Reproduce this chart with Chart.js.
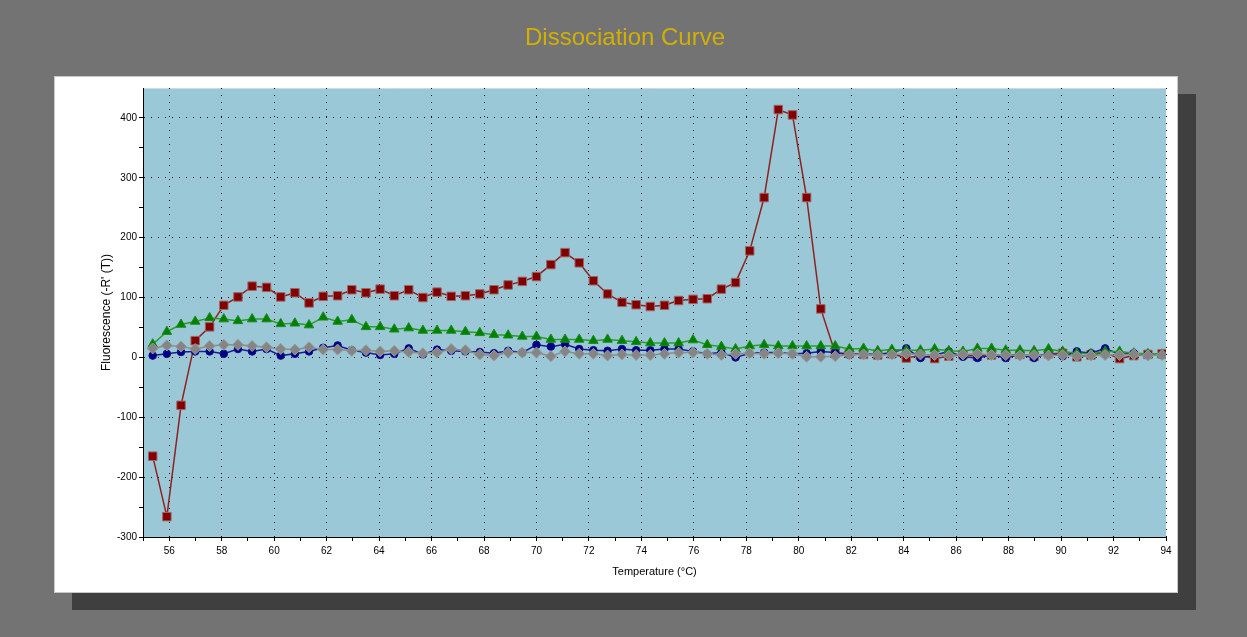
<!DOCTYPE html>
<html>
<head>
<meta charset="utf-8">
<title>Dissociation Curve</title>
<script src="https://cdn.jsdelivr.net/npm/chart.js@4/dist/chart.umd.min.js"></script>
<style>
  html, body { margin: 0; padding: 0; background: #737373; }
  #canvas-container { width: 1247px; height: 637px; }
</style>
</head>
<body>
<div id="canvas-container"><canvas id="chart" width="1247" height="637"></canvas></div>
<script>
// temperature of each reading (deg C)
const temps = [
  55.37, 55.91, 56.45, 56.99, 57.54, 58.08, 58.62, 59.16, 59.71, 60.25,
  60.79, 61.33, 61.87, 62.42, 62.96, 63.50, 64.04, 64.58, 65.13, 65.67,
  66.21, 66.75, 67.29, 67.84, 68.38, 68.92, 69.46, 70.00, 70.55, 71.09,
  71.63, 72.17, 72.71, 73.26, 73.80, 74.34, 74.88, 75.42, 75.97, 76.51,
  77.05, 77.59, 78.13, 78.68, 79.22, 79.76, 80.30, 80.84, 81.39, 81.93,
  82.47, 83.01, 83.55, 84.10, 84.64, 85.18, 85.72, 86.26, 86.81, 87.35,
  87.89, 88.43, 88.97, 89.52, 90.06, 90.60, 91.14, 91.68, 92.23, 92.77,
  93.31, 93.85
];

// -R'(T) for each well
const redWell = [
  -165, -266, -80, 28, 51, 87, 101, 119, 117, 101,
  108, 91, 102, 103, 113, 108, 114, 103, 113, 100,
  109, 102, 103, 106, 113, 121, 127, 135, 155, 175,
  158, 128, 106, 92, 88, 85, 87, 95, 97, 98,
  114, 125, 178, 267, 414, 405, 267, 81, 7, 7,
  5, 4, 6, -1, 3, -2, 2, 5, 2, 4,
  3, 5, 2, 6, 7, 1, 4, 8, -2, 3,
  5, 6
];
const greenWell = [
  22, 43, 55, 60, 66, 64, 61, 64, 64, 56,
  57, 54, 67, 60, 63, 51, 51, 47, 49, 45,
  45, 45, 43, 41, 38, 37, 35, 35, 30, 30,
  30, 28, 30, 28, 26, 24, 24, 24, 29, 21,
  18, 14, 19, 21, 19, 19, 19, 19, 19, 14,
  15, 11, 13, 12, 12, 14, 11, 10, 15, 15,
  12, 12, 11, 14, 10, 7, 6, 10, 10, 7,
  6, 5
];
const blueWell = [
  3, 6, 9, 10, 10, 6, 14, 10, 14, 3,
  6, 10, 16, 20, 12, 8, 4, 6, 15, 5,
  13, 11, 10, 9, 7, 11, 8, 21, 18, 22,
  14, 12, 11, 14, 12, 12, 14, 14, 10, 6,
  8, 0, 7, 8, 8, 6, 7, 10, 8, 4,
  6, 5, 8, 15, -1, 4, 10, 1, -1, 4,
  -1, 5, -1, 7, 2, 10, 7, 15, 5, 7,
  4, 4
];
const grayWell = [
  15, 20, 18, 14, 19, 21, 21, 19, 17, 14,
  13, 17, 13, 13, 11, 12, 10, 11, 9, 7,
  8, 14, 12, 5, 3, 8, 8, 8, 2, 10,
  6, 6, 3, 5, 4, 4, 6, 8, 8, 6,
  4, 6, 7, 6, 7, 6, 1, 1, 2, 5,
  5, 4, 5, 6, 5, 4, 3, 5, 6, 4,
  4, 3, 4, 3, 4, 2, 3, 4, 4, 5,
  3, 4
];

const FONT = 'Arial, "Liberation Sans", sans-serif';

function points(values) {
  return values.map((v, i) => ({ x: temps[i], y: v }));
}

// grey backdrop, drop shadow, white card and the blue plot area
const framePlugin = {
  id: 'frame',
  beforeDraw(chart) {
    const ctx = chart.ctx;
    const a = chart.chartArea;
    ctx.save();
    ctx.fillStyle = '#737373';
    ctx.fillRect(0, 0, chart.width, chart.height);
    ctx.fillStyle = '#3f3f3f';
    ctx.fillRect(72, 94, 1124, 516);
    ctx.fillStyle = '#ffffff';
    ctx.fillRect(54, 76, 1124, 517);
    ctx.strokeStyle = '#c8c8c8';
    ctx.lineWidth = 1;
    ctx.strokeRect(54.5, 76.5, 1123, 516);
    ctx.fillStyle = '#9bc8d7';
    ctx.fillRect(a.left, a.top, a.right - a.left, a.bottom - a.top);
    ctx.strokeStyle = '#c6dde6';
    ctx.beginPath();
    ctx.moveTo(a.left, a.top + 0.5);
    ctx.lineTo(a.right, a.top + 0.5);
    ctx.stroke();
    ctx.restore();
  }
};

function createChart() {
  const ctx = document.getElementById('chart').getContext('2d');
  new Chart(ctx, {
    type: 'line',
    data: {
      datasets: [
        {
          label: 'Gray',
          data: points(grayWell),
          borderColor: '#8a8a8a',
          borderWidth: 1.5,
          pointStyle: 'rectRot',
          pointRadius: 5.5,
          pointBackgroundColor: '#858585',
          pointBorderColor: '#9a9a9a',
          pointBorderWidth: 1,
        },
        {
          label: 'Green',
          data: points(greenWell),
          borderColor: '#2b9c2b',
          borderWidth: 1.5,
          pointStyle: 'triangle',
          pointRadius: 5.5,
          pointBackgroundColor: '#008000',
          pointBorderColor: '#1a8a1a',
          pointBorderWidth: 1,
        },
        {
          label: 'Blue',
          data: points(blueWell),
          borderColor: '#1c1c8c',
          borderWidth: 1.5,
          pointStyle: 'circle',
          pointRadius: 3.8,
          pointBackgroundColor: '#000080',
          pointBorderColor: '#101090',
          pointBorderWidth: 1,
        },
        {
          label: 'Red',
          data: points(redWell),
          borderColor: '#8e2222',
          borderWidth: 1.5,
          pointStyle: 'rect',
          pointRadius: 6,
          pointBackgroundColor: '#800000',
          pointBorderColor: '#a06464',
          pointBorderWidth: 1,
        },
      ],
    },
    options: {
      responsive: false,
      animation: false,
      devicePixelRatio: 1,
      elements: { line: { tension: 0 } },
      // left padding chosen so the title centres on the window like the original
      layout: { padding: { left: 84, right: 81, top: 0, bottom: 0 } },
      plugins: {
        legend: { display: false },
        tooltip: { enabled: false },
        title: {
          display: true,
          text: 'Dissociation Curve',
          color: '#d2b000',
          font: { family: FONT, size: 24, weight: 'normal', lineHeight: 1.2 },
          padding: { top: 24, bottom: 35.2 },
        },
      },
      scales: {
        x: {
          type: 'linear',
          min: 55,
          max: 94,
          afterFit: s => { s.height = 100; },
          ticks: {
            stepSize: 1,
            autoSkip: false,
            maxRotation: 0,
            padding: 4,
            color: '#000',
            font: { family: FONT, size: 10 },
            callback: v => (v % 2 === 0 ? v : ''),
          },
          grid: {
            color: c => (c.tick && c.tick.value % 2 === 0 ? '#000' : 'rgba(0,0,0,0)'),
            tickColor: '#000',
            tickLength: 4,
            lineWidth: 1,
          },
          border: { display: true, color: '#000', width: 1, dash: [1, 6] },
          title: {
            display: true,
            text: 'Temperature (°C)',
            color: '#000',
            font: { family: FONT, size: 11 },
            padding: { top: 58, bottom: 58 },
          },
        },
        y: {
          min: -300,
          max: 450,
          afterFit: s => { s.width = 59; },
          ticks: {
            stepSize: 50,
            autoSkip: false,
            padding: 2,
            color: '#000',
            font: { family: FONT, size: 10 },
            callback: v => (v % 100 === 0 ? v : ''),
          },
          grid: {
            color: c => (c.tick && c.tick.value % 100 === 0 && c.tick.value > -300 ? '#000' : 'rgba(0,0,0,0)'),
            tickColor: c => (c.tick && c.tick.value === 450 ? 'rgba(0,0,0,0)' : '#000'),
            tickLength: 4,
            lineWidth: 1,
          },
          border: { display: true, color: '#000', width: 1, dash: [1, 6] },
          title: {
            display: true,
            text: "Fluorescence (-R' (T))",
            color: '#000',
            font: { family: FONT, size: 12 },
            padding: { top: 15, bottom: 15 },
          },
        },
      },
    },
    plugins: [framePlugin],
  });
}

createChart();
</script>
</body>
</html>
